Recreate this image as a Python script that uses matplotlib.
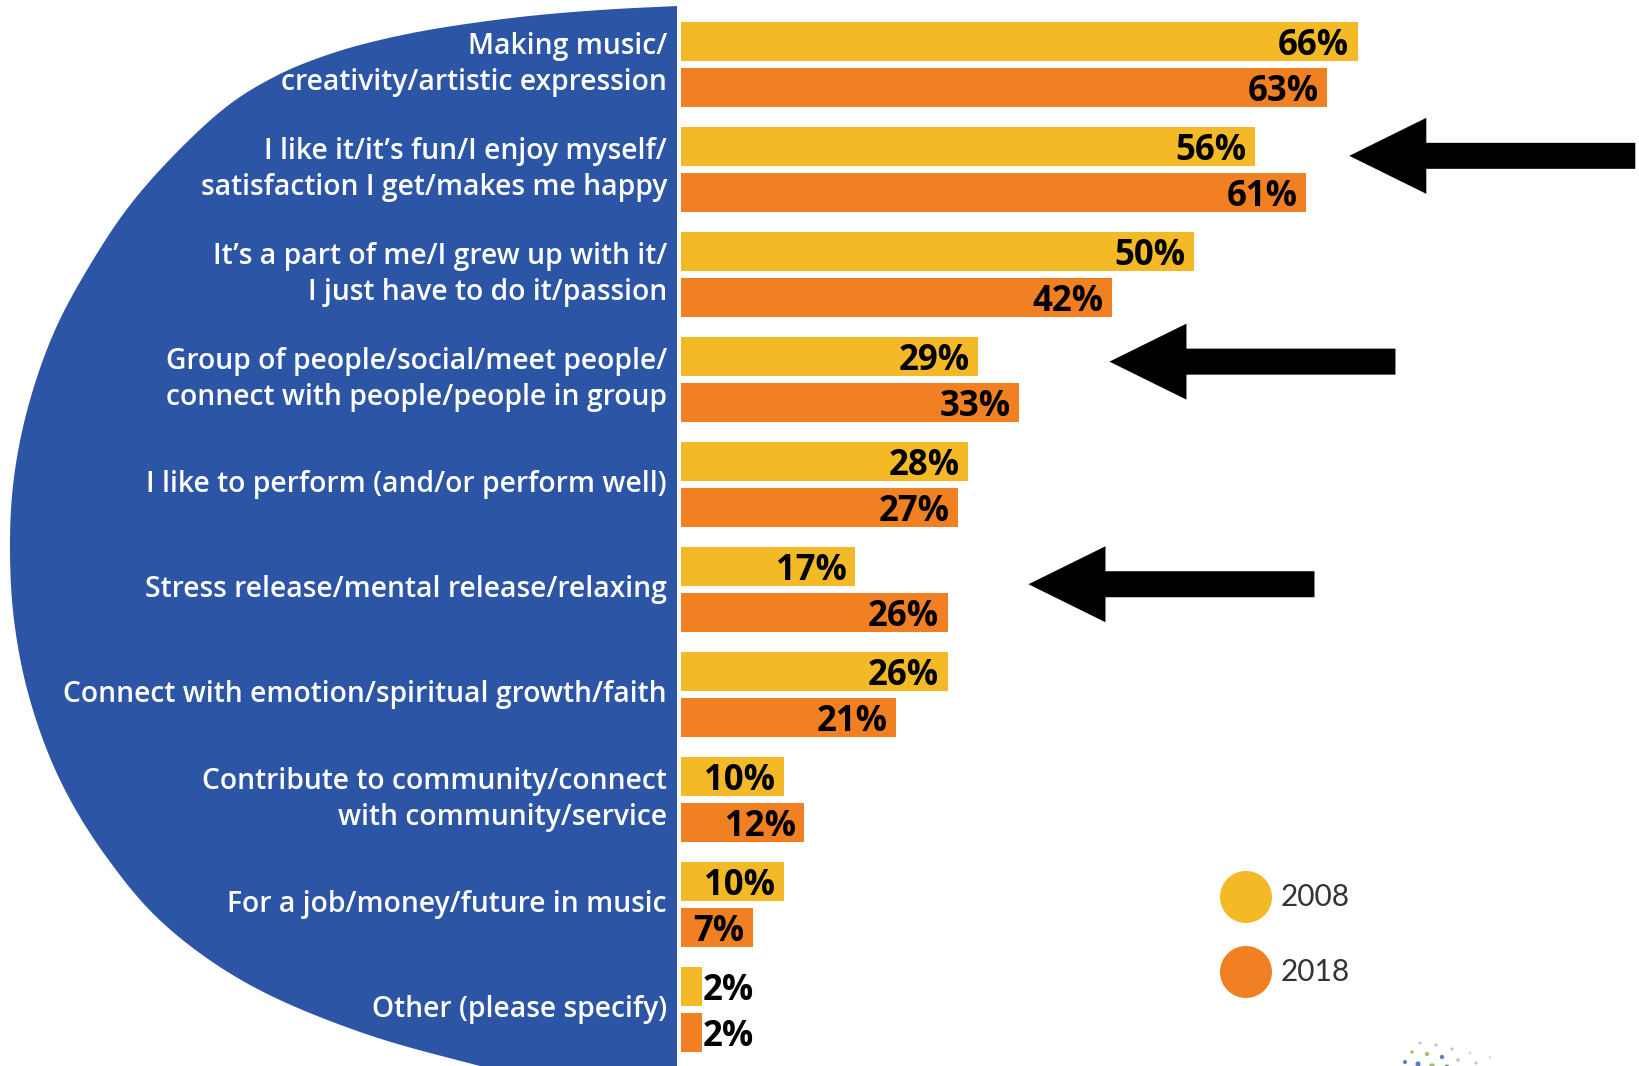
import matplotlib.pyplot as plt
import numpy as np
from matplotlib.patches import Circle, Polygon, FancyArrow

# Motivos para hacer música, 2008 vs 2018 (%)
categorias = [
    "Making music/\ncreativity/artistic expression",
    "I like it/it’s fun/I enjoy myself/\nsatisfaction I get/makes me happy",
    "It’s a part of me/I grew up with it/\nI just have to do it/passion",
    "Group of people/social/meet people/\nconnect with people/people in group",
    "I like to perform (and/or perform well)",
    "Stress release/mental release/relaxing",
    "Connect with emotion/spiritual growth/faith",
    "Contribute to community/connect\nwith community/service",
    "For a job/money/future in music",
    "Other (please specify)",
]
v2008 = [66, 56, 50, 29, 28, 17, 26, 10, 10, 2]
v2018 = [63, 61, 42, 33, 27, 26, 21, 12, 7, 2]
anios = ["2008", "2018"]

# Flechas que marcan las categorías que subieron
flecha_y = [0.87, 2.83, 4.95]
flecha_punta = [65.2, 41.8, 33.9]

amarillo = "#F3B926"
naranja = "#F08022"
azul = "#2C56A5"

W, H = 1639, 1066
fig = plt.figure(figsize=(W / 100, H / 100), dpi=100)
fig.patch.set_facecolor("white")

# Eje de fondo en píxeles para la forma azul y la leyenda
bg = fig.add_axes([0, 0, 1, 1])
bg.set_xlim(0, W)
bg.set_ylim(H, 0)
bg.axis("off")

# Contorno de la media luna azul (spline Catmull-Rom por puntos de control)
ctrl = np.array([
    [677, 6], [600, 10], [520, 17], [440, 28], [380, 40], [330, 54],
    [280, 74], [230, 104], [179, 150], [130, 205], [90, 265], [55, 330],
    [30, 400], [15, 470], [10, 540], [14, 620], [30, 700], [60, 780],
    [105, 855], [165, 925], [250, 985], [360, 1032], [480, 1066],
    [600, 1095],
], dtype=float)
pts = []
P = np.vstack([ctrl[0], ctrl, ctrl[-1]])
for k in range(1, len(P) - 2):
    p0, p1, p2, p3 = P[k - 1], P[k], P[k + 1], P[k + 2]
    for t in np.linspace(0, 1, 12, endpoint=False):
        pts.append(0.5 * ((2 * p1) + (-p0 + p2) * t
                          + (2 * p0 - 5 * p1 + 4 * p2 - p3) * t ** 2
                          + (-p0 + 3 * p1 - 3 * p2 + p3) * t ** 3))
pts.append(ctrl[-1])
pts = np.array(pts + [[677, 1095], [677, 6]])
bg.add_patch(Polygon(pts, closed=True, facecolor=azul, edgecolor="none"))

# Eje de barras: 0 % en x=681 px, 10.25 px por punto porcentual
x0 = 681
px_pct = 10.25
ax = fig.add_axes([x0 / W, 0, 1 - x0 / W, 1])
ax.set_xlim(0, (W - x0) / px_pct)
ax.set_ylim(9.538, -0.614)
ax.axis("off")

y = np.arange(len(categorias))
off = 0.222
alto = 0.371
ax.barh(y - off, v2008, height=alto, color=amarillo)
ax.barh(y + off, v2018, height=alto, color=naranja)

def etiqueta(v, yy):
    if v < 5:
        ax.text(v + 0.1, yy, f"{v}%", ha="left", va="center_baseline",
                fontsize=25, fontweight="bold", family="Open Sans", color="black")
    else:
        ax.text(v - 0.8, yy, f"{v}%", ha="right", va="center_baseline",
                fontsize=25, fontweight="bold", family="Open Sans", color="black")

for i in range(len(categorias)):
    etiqueta(v2008[i], y[i] - off)
    etiqueta(v2018[i], y[i] + off)
    ax.text(-14 / px_pct, y[i], categorias[i], ha="right", va="center",
            ma="right", fontsize=20.3, fontweight="semibold", family="Open Sans",
            color="white", linespacing=1.3, clip_on=False)

# Flechas negras
for yy, xp in zip(flecha_y, flecha_punta):
    largo = 286 / px_pct
    ax.add_patch(FancyArrow(xp + largo, yy, -largo, 0, width=26 / 105,
                            head_width=76 / 105, head_length=77 / px_pct,
                            length_includes_head=True, color="black", lw=0))

# Leyenda con círculos
for j, (lab, col) in enumerate(zip(anios, [amarillo, naranja])):
    cy = 897 + 75 * j
    bg.add_patch(Circle((1246, cy), 26, facecolor=col, edgecolor="none"))
    bg.text(1281, cy, lab, ha="left", va="center", fontsize=21.5,
            family="Lato", fontweight="normal", color="#333333")

# Puntos del logo en la esquina inferior derecha
lx = [1405, 1412, 1420, 1418, 1427, 1436, 1432, 1442, 1452, 1447, 1458, 1470, 1463, 1476, 1490]
ly = [1062, 1052, 1043, 1064, 1054, 1045, 1066, 1057, 1049, 1067, 1060, 1053, 1068, 1063, 1057]
bg.scatter(lx, ly, s=[9, 6, 4, 14, 9, 5, 16, 10, 5, 12, 7, 4, 8, 5, 3],
           c=["#3A5FB0", "#8DB04A", "#A0B5D8", "#3A5FB0", "#8DB04A", "#A0B5D8",
              "#8DB04A", "#3A5FB0", "#A0B5D8", "#3A5FB0", "#A0B5D8", "#C7D59E",
              "#A0B5D8", "#A0B5D8", "#C7D59E"], alpha=0.8, linewidths=0)

fig.savefig("out.png", dpi=100, facecolor="white")
